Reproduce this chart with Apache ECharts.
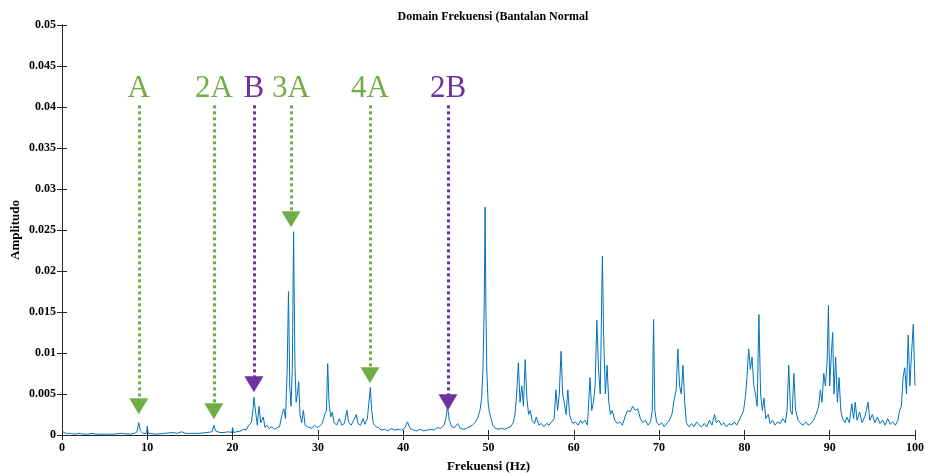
<!DOCTYPE html>
<html>
<head>
<meta charset="utf-8">
<script src="https://cdn.jsdelivr.net/npm/echarts@6/dist/echarts.min.js"></script>
<style>
  html, body { margin: 0; padding: 0; background: #fff; }
  #chart { width: 928px; height: 476px; }
</style>
</head>
<body>
<div id="chart"></div>
<script>
// frekuensi (Hz) dan amplitudo
var freqHz = [
  0, 0.2, 0.5, 1, 1.5, 2, 2.5, 3, 3.5, 4, 5, 6, 7, 8, 8.5, 8.8, 9.0, 9.2, 9.5, 9.9,
  10.0, 10.1, 11, 12, 13, 13.5, 14, 14.5, 15, 16, 17, 17.6, 17.8, 18.0, 18.5, 19, 19.5, 19.9,
  20.0, 20.1, 20.5, 21, 21.3, 21.6, 21.9, 22.2, 22.4, 22.5, 22.7, 22.9, 23.1, 23.3, 23.6, 23.8,
  24, 24.3, 24.6, 24.9, 25.2, 25.5, 25.8, 26.0, 26.2, 26.4, 26.55, 26.7, 26.85, 27.0, 27.15, 27.3,
  27.45, 27.6, 27.75, 27.9, 28.1, 28.3, 28.5, 28.8, 29, 29.3, 29.6, 29.9, 30.2, 30.5, 30.8, 31.0,
  31.15, 31.3, 31.5, 31.7, 31.9, 32.2, 32.5, 32.8, 33.1, 33.4, 33.6, 33.9, 34.2, 34.5, 34.7, 35.0,
  35.3, 35.5, 35.8, 36.0, 36.15, 36.3, 36.5, 36.8, 37.1, 37.4, 37.8, 38.2, 38.6, 39, 39.4, 39.8,
  40.2, 40.5, 40.8, 41.2, 41.6, 42, 42.4, 42.8, 43.2, 43.6, 44, 44.4, 44.8, 45.0, 45.2, 45.4,
  45.7, 46, 46.4, 46.7, 47, 47.4, 47.8, 48.1, 48.4, 48.7, 49.0, 49.2, 49.35, 49.5, 49.6, 49.7,
  49.8, 49.95, 50.1, 50.3, 50.5, 50.8, 51.1, 51.5, 51.9, 52.3, 52.6, 52.9, 53.1, 53.3, 53.5, 53.7,
  53.9, 54.1, 54.3, 54.5, 54.7, 54.9, 55.1, 55.4, 55.6, 55.9, 56.2, 56.5, 56.8, 57.1, 57.4, 57.7,
  57.9, 58.1, 58.3, 58.5, 58.7, 58.9, 59.1, 59.3, 59.5, 59.7, 59.9, 60.2, 60.5, 60.8, 61.0, 61.3,
  61.6, 61.9, 62.1, 62.3, 62.5, 62.7, 62.9, 63.1, 63.35, 63.5, 63.7, 63.9, 64.1, 64.3, 64.5, 64.8,
  65.1, 65.4, 65.7, 66, 66.3, 66.6, 66.9, 67.2, 67.5, 67.8, 68.1, 68.4, 68.7, 69.0, 69.2, 69.35,
  69.5, 69.7, 70, 70.3, 70.6, 70.9, 71.2, 71.5, 71.8, 72.0, 72.2, 72.4, 72.6, 72.8, 73.0, 73.2,
  73.5, 73.8, 74.1, 74.4, 74.7, 75, 75.3, 75.6, 75.9, 76.2, 76.5, 76.7, 77, 77.3, 77.6, 77.9,
  78.2, 78.5, 78.8, 79.1, 79.4, 79.7, 79.9, 80.1, 80.3, 80.5, 80.7, 80.9, 81.1, 81.3, 81.5, 81.7,
  81.9, 82.1, 82.3, 82.5, 82.8, 83, 83.3, 83.6, 83.9, 84.2, 84.5, 84.8, 85.0, 85.2, 85.4, 85.6,
  85.8, 86.0, 86.3, 86.6, 86.9, 87.2, 87.5, 87.8, 88.1, 88.4, 88.7, 88.9, 89.1, 89.3, 89.5, 89.7,
  89.85, 90.0, 90.2, 90.35, 90.5, 90.7, 90.9, 91.1, 91.3, 91.5, 91.8, 92, 92.3, 92.6, 92.8, 93.0,
  93.2, 93.5, 93.8, 94.1, 94.3, 94.5, 94.7, 95, 95.3, 95.6, 95.9, 96.2, 96.5, 96.8, 97.1, 97.4,
  97.7, 98.0, 98.2, 98.4, 98.6, 98.8, 99.0, 99.2, 99.4, 99.6, 99.8, 100
];
var amplitude = [
  0.0006, 0.0003, 0.0002, 0.0002, 0.0001, 0.0002, 0.0001, 0.0001, 0.0002, 0.0001, 0.0001, 0.0001, 0.0002, 0.0001, 0.0002, 0.0004, 0.0015, 0.0005, 0.0002, 0.0002,
  0.0011, 0.0002, 0.0001, 0.0002, 0.0003, 0.0002, 0.0004, 0.0002, 0.0002, 0.0002, 0.0003, 0.0004, 0.0012, 0.0005, 0.0003, 0.0003, 0.0004, 0.0003,
  0.0009, 0.0003, 0.0004, 0.0005, 0.0007, 0.0006, 0.0012, 0.0015, 0.0032, 0.0046, 0.0028, 0.0012, 0.0035, 0.0015, 0.0022, 0.0009,
  0.0012, 0.0008, 0.0010, 0.0007, 0.0009, 0.0010, 0.0025, 0.0032, 0.0020, 0.0080, 0.0175, 0.0060, 0.0035, 0.0080, 0.0248, 0.0090,
  0.0040, 0.0050, 0.0065, 0.0025, 0.0015, 0.0030, 0.0012, 0.0010, 0.0012, 0.0008, 0.0012, 0.0009, 0.0011, 0.0014, 0.0025, 0.0030,
  0.0087, 0.0040, 0.0022, 0.0028, 0.0015, 0.0012, 0.0020, 0.0012, 0.0014, 0.0030, 0.0016, 0.0012, 0.0018, 0.0025, 0.0014, 0.0012,
  0.0020, 0.0013, 0.0020, 0.0022, 0.0058, 0.0030, 0.0014, 0.0010, 0.0009, 0.0006, 0.0007, 0.0005, 0.0008, 0.0006, 0.0007, 0.0006,
  0.0009, 0.0016, 0.0008, 0.0006, 0.0005, 0.0007, 0.0005, 0.0006, 0.0007, 0.0006, 0.0009, 0.0008, 0.0012, 0.0020, 0.0035, 0.0018,
  0.0010, 0.0009, 0.0014, 0.0008, 0.0007, 0.0008, 0.0010, 0.0012, 0.0015, 0.0020, 0.0030, 0.0045, 0.0080, 0.0160, 0.0278, 0.0150,
  0.0080, 0.0040, 0.0028, 0.0020, 0.0012, 0.0008, 0.0007, 0.0008, 0.0007, 0.0009, 0.0010, 0.0015, 0.0025, 0.0050, 0.0088, 0.0040,
  0.0060, 0.0035, 0.0092, 0.0045, 0.0025, 0.0030, 0.0018, 0.0014, 0.0022, 0.0012, 0.0014, 0.0010, 0.0014, 0.0012, 0.0016, 0.0020,
  0.0055, 0.0030, 0.0050, 0.0102, 0.0050, 0.0038, 0.0025, 0.0055, 0.0025, 0.0018, 0.0014, 0.0016, 0.0012, 0.0018, 0.0014, 0.0018,
  0.0012, 0.0070, 0.0030, 0.0040, 0.0060, 0.0140, 0.0080, 0.0050, 0.0218, 0.0120, 0.0050, 0.0085, 0.0040, 0.0025, 0.0030, 0.0018,
  0.0014, 0.0016, 0.0012, 0.0022, 0.0030, 0.0028, 0.0035, 0.0030, 0.0032, 0.0020, 0.0015, 0.0018, 0.0012, 0.0016, 0.0030, 0.0141,
  0.0030, 0.0016, 0.0012, 0.0015, 0.0010, 0.0014, 0.0018, 0.0025, 0.0045, 0.0055, 0.0105, 0.0060, 0.0050, 0.0085, 0.0040, 0.0015,
  0.0010, 0.0014, 0.0010, 0.0016, 0.0012, 0.0010, 0.0014, 0.0010, 0.0018, 0.0012, 0.0025, 0.0015, 0.0018, 0.0012, 0.0015, 0.0010,
  0.0014, 0.0012, 0.0016, 0.0012, 0.0018, 0.0025, 0.0030, 0.0045, 0.0070, 0.0105, 0.0080, 0.0095, 0.0060, 0.0050, 0.0035, 0.0147,
  0.0050, 0.0030, 0.0045, 0.0020, 0.0025, 0.0014, 0.0018, 0.0012, 0.0016, 0.0014, 0.0020, 0.0015, 0.0030, 0.0085, 0.0030, 0.0025,
  0.0075, 0.0030, 0.0018, 0.0014, 0.0012, 0.0016, 0.0012, 0.0014, 0.0018, 0.0025, 0.0035, 0.0055, 0.0040, 0.0075, 0.0060, 0.0090,
  0.0158, 0.0060, 0.0100, 0.0125, 0.0050, 0.0095, 0.0040, 0.0070, 0.0030, 0.0020, 0.0015, 0.0022, 0.0015, 0.0038, 0.0020, 0.0040,
  0.0018, 0.0028, 0.0015, 0.0022, 0.0030, 0.0040, 0.0018, 0.0025, 0.0015, 0.0022, 0.0014, 0.0018, 0.0012, 0.0020, 0.0013, 0.0016,
  0.0012, 0.0018, 0.0030, 0.0035, 0.0070, 0.0082, 0.0050, 0.0122, 0.0060, 0.0100, 0.0135, 0.0060
];

// penanda harmonik
var markNames = ['A', '2A', 'B', '3A', '4A', '2B'];
var markFreq = [9.0, 17.8, 22.5, 26.85, 36.1, 45.25];
var markTip = [0.0035, 0.0029, 0.0062, 0.0263, 0.0073, 0.0040];
var markTop = 0.0402;
var markColor = ['#70AD47', '#70AD47', '#7030A0', '#70AD47', '#70AD47', '#7030A0'];

var chartDiv = document.getElementById('chart');
var chart = echarts.init(chartDiv);

var seriesData = [];
for (var i = 0; i < freqHz.length; i++) {
  seriesData.push([freqHz[i], amplitude[i]]);
}

var markLines = [];
for (var j = 0; j < markNames.length; j++) {
  markLines.push([
    {
      coord: [markFreq[j], markTop],
      lineStyle: { color: markColor[j], type: [3, 3], width: 3 },
      itemStyle: { color: markColor[j] },
      label: {
        show: true, position: 'start', formatter: markNames[j], distance: 1,
        color: markColor[j], fontSize: 31, fontFamily: 'Liberation Serif, Times New Roman, serif'
      }
    },
    { coord: [markFreq[j], markTip[j]] }
  ]);
}

var font = 'Liberation Serif, Times New Roman, serif';
var axisCol = '#262626';

var option = {
  animation: false,
  title: {
    text: 'Domain Frekuensi (Bantalan Normal',
    left: 488, top: 6, textAlign: 'center',
    textStyle: { fontSize: 12, fontWeight: 'bold', fontFamily: font, color: '#000' }
  },
  grid: { left: 62, right: 13, top: 25, bottom: 41, outerBoundsMode: 'none', containLabel: false },
  xAxis: [{
    type: 'value', min: 0, max: 100, interval: 10,
    name: 'Frekuensi (Hz)', nameLocation: 'middle', nameGap: 25, nameMoveOverlap: false,
    nameTextStyle: { fontSize: 13, fontWeight: 'bold', fontFamily: font, color: '#000' },
    axisLine: { show: true, lineStyle: { color: axisCol } },
    axisTick: { inside: true, length: 5, lineStyle: { color: axisCol } },
    axisLabel: { fontSize: 12, fontWeight: 'bold', fontFamily: font, color: '#000', margin: 7 },
    splitLine: { show: false }
  }, {
    type: 'value', min: 0, max: 100, interval: 10, position: 'top',
    axisLine: { show: true, lineStyle: { color: axisCol } },
    axisTick: { inside: true, length: 5, lineStyle: { color: axisCol } },
    axisLabel: { show: false },
    splitLine: { show: false }
  }],
  yAxis: [{
    type: 'value', min: 0, max: 0.05, interval: 0.005,
    name: 'Amplitudo', nameLocation: 'middle', nameGap: 40, nameMoveOverlap: false,
    nameTextStyle: { fontSize: 13, fontWeight: 'bold', fontFamily: font, color: '#000' },
    axisLine: { show: true, lineStyle: { color: axisCol } },
    axisTick: { inside: true, length: 5, lineStyle: { color: axisCol } },
    axisLabel: { fontSize: 12, fontWeight: 'bold', fontFamily: font, color: '#000', margin: 6 },
    splitLine: { show: false }
  }, {
    type: 'value', min: 0, max: 0.05, interval: 0.005, position: 'right',
    axisLine: { show: true, lineStyle: { color: axisCol } },
    axisTick: { inside: true, length: 5, lineStyle: { color: axisCol } },
    axisLabel: { show: false },
    splitLine: { show: false }
  }],
  series: [{
    type: 'line',
    data: seriesData,
    showSymbol: false,
    lineStyle: { color: '#0072BD', width: 1 },
    itemStyle: { color: '#0072BD' },
    markLine: {
      silent: true,
      symbol: ['none', 'triangle'],
      symbolSize: [19, 16],
      data: markLines
    }
  }]
};
chart.setOption(option);
</script>
</body>
</html>
